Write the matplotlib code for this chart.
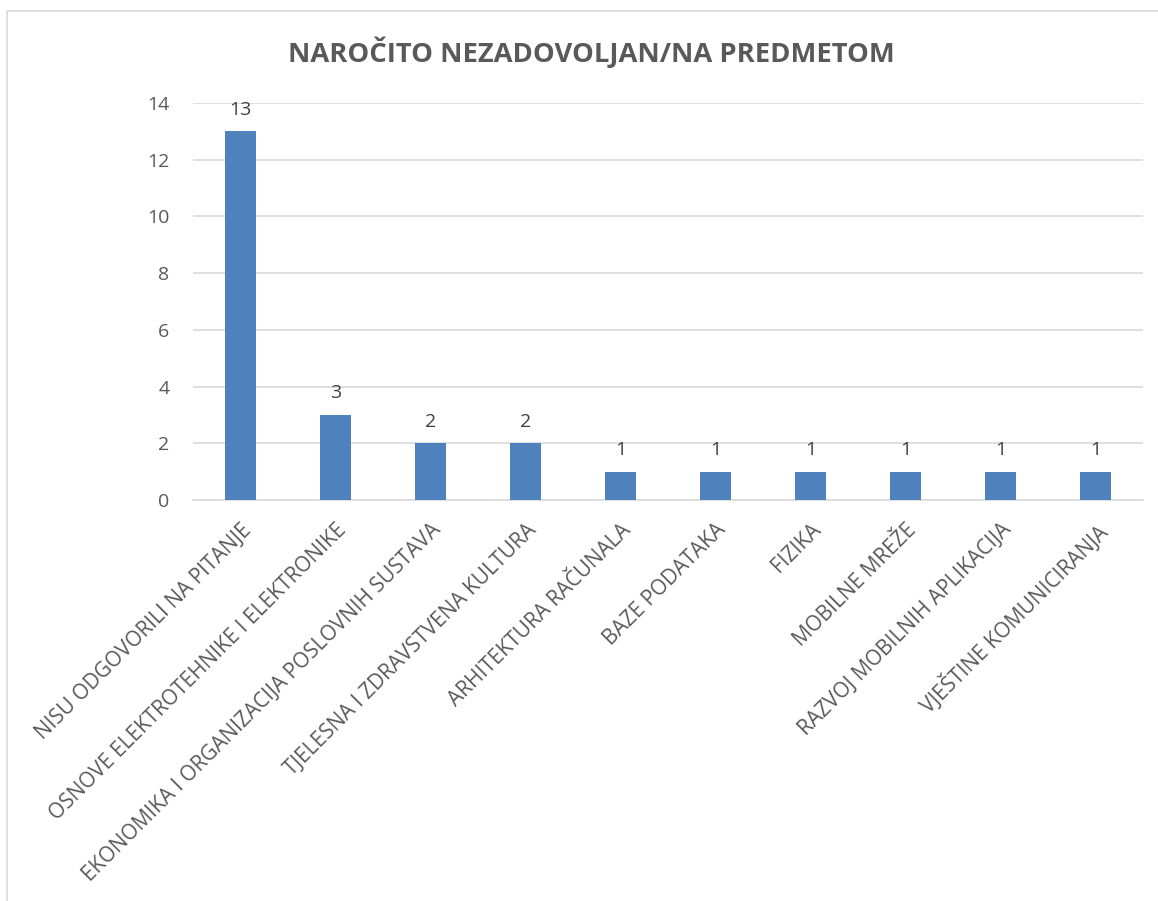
import matplotlib
matplotlib.use("Agg")
import matplotlib.pyplot as plt
from matplotlib.patches import Rectangle

categories = [
    "NISU ODGOVORILI NA PITANJE",
    "OSNOVE ELEKTROTEHNIKE I ELEKTRONIKE",
    "EKONOMIKA I ORGANIZACIJA POSLOVNIH SUSTAVA",
    "TJELESNA I ZDRAVSTVENA KULTURA",
    "ARHITEKTURA RAČUNALA",
    "BAZE PODATAKA",
    "FIZIKA",
    "MOBILNE MREŽE",
    "RAZVOJ MOBILNIH APLIKACIJA",
    "VJEŠTINE KOMUNICIRANJA",
]
values = [13, 3, 2, 2, 1, 1, 1, 1, 1, 1]
yticks = [0, 2, 4, 6, 8, 10, 12, 14]
title = "NAROČITO NEZADOVOLJAN/NA PREDMETOM"

W, H = 1158, 901
fig = plt.figure(figsize=(W / 100, H / 100), dpi=100)
fig.patch.set_facecolor("white")

# chart border
fig.add_artist(Rectangle((7 / W, -0.05), 1.2, 1 - 11 / H + 0.05, transform=fig.transFigure,
                         fill=False, edgecolor="#D9D9D9", linewidth=1.2))

ax = fig.add_axes([193 / W, 1 - 500 / H, 950 / W, 397 / H])
x = list(range(len(categories)))
bars = ax.bar(x, values, width=0.316, color="#4F81BD", zorder=3)
ax.set_xlim(-0.5, len(categories) - 0.5)
ax.set_ylim(0, 14)
ax.set_yticks(yticks)
ax.grid(axis="y", color="#D9D9D9", linewidth=1.2, zorder=0)
for s in ["top", "right", "left"]:
    ax.spines[s].set_visible(False)
ax.spines["bottom"].set_color("#D9D9D9")
ax.spines["bottom"].set_linewidth(1.2)
ax.tick_params(axis="both", length=0, colors="#595959", labelsize=14)
ax.tick_params(axis="y", pad=17)
for lbl in ax.get_yticklabels():
    lbl.set_fontfamily("Open Sans")

ax.set_xticks(x)
ax.set_xticklabels(categories, rotation=45, ha="right", rotation_mode="anchor",
                   fontsize=15, color="#595959", fontfamily="Open Sans")
ax.tick_params(axis="x", pad=14)

for b, v in zip(bars, values):
    ax.annotate(str(v), (b.get_x() + b.get_width() / 2, v), xytext=(0, 9),
                textcoords="offset points", ha="center", va="bottom",
                fontsize=14, color="#404040", fontfamily="Open Sans")

fig.text(591 / W, 1 - 52 / H, title, ha="center", va="center", fontsize=19.7,
         fontweight="bold", color="#595959", fontfamily="Open Sans")

fig.savefig("out.png", dpi=100)
